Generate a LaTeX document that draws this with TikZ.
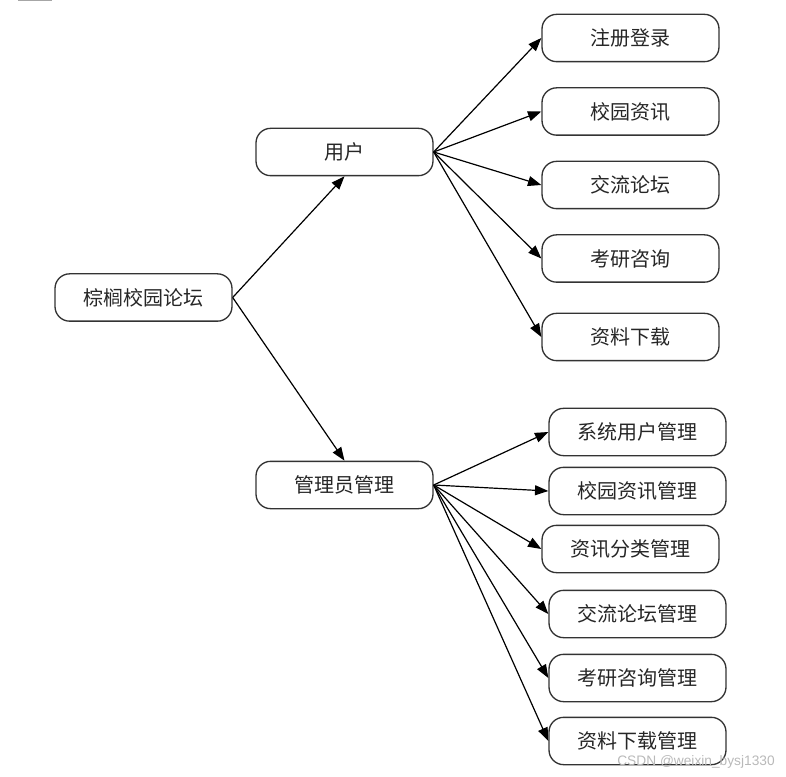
\documentclass[tikz,border=0pt]{standalone}
\usepackage{fontspec}
\newfontfamily\cjk{Noto Sans CJK SC}
\newfontfamily\wmfont{Liberation Sans}
\usetikzlibrary{arrows.meta}
\definecolor{edge}{HTML}{333333}
\tikzset{
  box/.style={draw=edge, line width=1pt, rounded corners=11pt, minimum width=132.75pt, minimum height=35.5pt, inner sep=0pt, font=\cjk\fontsize{15}{17}\selectfont, text=black!85},
  conn/.style={draw=black, line width=0.9pt, -{Triangle[length=10pt,width=7.5pt]}}
}
\begin{document}
\begin{tikzpicture}[x=0.75pt,y=-0.75pt]
\useasboundingbox (0,0) rectangle (786,777);
\draw[gray!70, line width=1.2pt] (18,0.5) -- (52,0.5);
\node[box] (root) at (143.5,297.5) {棕榈校园论坛};
\node[box] (user) at (344.5,152) {用户};
\node[box] (admin) at (344.5,485) {管理员管理};
\node[box] (u1) at (630.5,38) {注册登录};
\node[box] (u2) at (630.5,111.5) {校园资讯};
\node[box] (u3) at (630.5,185) {交流论坛};
\node[box] (u4) at (630.5,258.5) {考研咨询};
\node[box] (u5) at (630.5,337) {资料下载};
\node[box] (a1) at (637.5,432) {系统用户管理};
\node[box] (a2) at (637.5,491) {校园资讯管理};
\node[box] (a3) at (630.5,549) {资讯分类管理};
\node[box] (a4) at (637.5,614) {交流论坛管理};
\node[box] (a5) at (637.5,678) {考研咨询管理};
\node[box] (a6) at (637.5,741) {资料下载管理};
\draw[conn] (root.east) -- (user.south);
\draw[conn] (root.east) -- (admin.north);
\foreach \n in {u1,u2,u3,u4,u5} \draw[conn] (user.east) -- (\n.west);
\foreach \n in {a1,a2,a3,a4,a5,a6} \draw[conn] (admin.east) -- (\n.west);
\node[anchor=east, text=gray!55, font=\wmfont\fontsize{10.3}{12}\selectfont, inner sep=0pt] (wm) at (775,762) {CSDN @weixin\_bysj1330};
\end{tikzpicture}
\end{document}
